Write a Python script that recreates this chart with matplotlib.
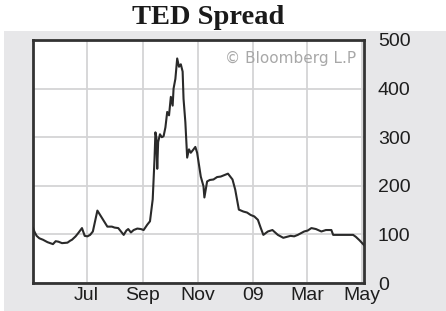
import pandas as pd
import numpy as np
import matplotlib
matplotlib.use('Agg')
import matplotlib.pyplot as plt
import matplotlib.dates as mdates
from matplotlib.ticker import FuncFormatter

# TED spread, bp
dates = ['2008-05-03', '2008-05-05', '2008-05-07', '2008-05-10', '2008-05-14', '2008-05-19',
         '2008-05-25', '2008-05-28', '2008-05-31', '2008-06-04', '2008-06-10', '2008-06-13',
         '2008-06-15', '2008-06-19', '2008-06-22', '2008-06-26', '2008-06-29', '2008-07-02',
         '2008-07-05', '2008-07-08', '2008-07-13', '2008-07-16', '2008-07-20', '2008-07-24',
         '2008-07-29', '2008-08-01', '2008-08-05', '2008-08-11', '2008-08-14', '2008-08-16',
         '2008-08-19', '2008-08-22', '2008-08-26', '2008-08-30', '2008-09-02', '2008-09-06',
         '2008-09-09', '2008-09-12', '2008-09-14', '2008-09-15', '2008-09-16', '2008-09-17',
         '2008-09-18', '2008-09-20', '2008-09-22', '2008-09-24', '2008-09-26', '2008-09-28',
         '2008-09-30', '2008-10-02', '2008-10-04', '2008-10-05', '2008-10-07', '2008-10-09',
         '2008-10-11', '2008-10-13', '2008-10-15', '2008-10-16', '2008-10-18', '2008-10-20',
         '2008-10-22', '2008-10-24', '2008-10-27', '2008-10-29', '2008-10-31', '2008-11-04',
         '2008-11-07', '2008-11-08', '2008-11-11', '2008-11-14', '2008-11-18', '2008-11-22',
         '2008-11-26', '2008-11-30', '2008-12-04', '2008-12-09', '2008-12-12', '2008-12-16',
         '2008-12-21', '2008-12-25', '2008-12-29', '2009-01-02', '2009-01-06', '2009-01-09',
         '2009-01-12', '2009-01-17', '2009-01-22', '2009-01-28', '2009-02-03', '2009-02-07',
         '2009-02-11', '2009-02-15', '2009-02-19', '2009-02-26', '2009-03-02', '2009-03-06',
         '2009-03-11', '2009-03-17', '2009-03-22', '2009-03-28', '2009-03-30', '2009-04-10',
         '2009-04-21', '2009-04-24', '2009-04-28', '2009-05-03']
ted = [113, 104, 97, 92, 89, 84, 80, 86, 85, 82, 83, 87, 89, 96, 103, 113, 97, 96,
       99, 106, 149, 140, 128, 116, 116, 114, 113, 99, 108, 111, 104, 109, 112, 111, 109, 120,
       127, 172, 255, 310, 300, 235, 290, 306, 300, 302, 320, 352, 345, 383, 365, 400, 420, 462,
       445, 450, 435, 379, 331, 258, 275, 268, 275, 280, 268, 219, 199, 176, 209, 212, 213, 218,
       219, 222, 225, 213, 192, 151, 147, 145, 140, 137, 130, 114, 99, 106, 109, 99, 93, 95,
       97, 96, 99, 106, 108, 113, 111, 106, 109, 109, 99, 99, 99, 95, 88, 78]

x_labels = {7: 'Jul', 9: 'Sep', 11: 'Nov', 1: '09', 3: 'Mar', 5: 'May'}
y_ticks = [0, 100, 200, 300, 400, 500]

dates = pd.to_datetime(dates)

fig = plt.figure(figsize=(4.46, 3.11), dpi=100)
fig.patch.set_facecolor('white')

# grey backdrop behind the chart
bg = fig.add_axes([4 / 446, 0, 1 - 4 / 446, (311 - 31) / 311], zorder=-5)
bg.set_facecolor('#e7e7e9')
bg.set_xticks([])
bg.set_yticks([])
for s in bg.spines.values():
    s.set_visible(False)

ax = fig.add_axes([33 / 446, 28 / 311, 331 / 446, 243 / 311], zorder=1)
ax.set_facecolor('white')
ax.plot(dates, ted, color='#2a2a2a', lw=1.5, zorder=3)

ax.set_xlim(pd.Timestamp('2008-05-03'), pd.Timestamp('2009-05-03'))
ax.set_ylim(0, 500)
ax.set_yticks(y_ticks)
ax.xaxis.set_major_locator(mdates.MonthLocator(bymonth=[1, 3, 5, 7, 9, 11]))
ax.xaxis.set_major_formatter(FuncFormatter(lambda v, p: x_labels.get(mdates.num2date(v).month, '')))

ax.yaxis.tick_right()
ax.tick_params(axis='both', length=0, labelsize=14, colors='#1e1e1e')
ax.tick_params(axis='y', pad=10)
ax.tick_params(axis='x', pad=3)
for lab in ax.get_xticklabels() + ax.get_yticklabels():
    lab.set_family('Liberation Sans')

ax.grid(True, color='#d4d4d6', lw=1.3)
ax.set_axisbelow(True)
for s in ax.spines.values():
    s.set_color('#333333')
    s.set_linewidth(2)

ax.text(0.975, 0.925, '\u00a9 Bloomberg L.P', transform=ax.transAxes, ha='right', va='center',
        fontsize=11, color='#a8a8a8', family='DejaVu Sans')

fig.text(208 / 446, (311 - 24) / 311, 'TED Spread', ha='center', va='baseline',
         fontsize=20.5, fontweight='bold', family='Liberation Serif', color='#1a1a1a')

fig.savefig('out.png', dpi=100, facecolor=fig.get_facecolor())
